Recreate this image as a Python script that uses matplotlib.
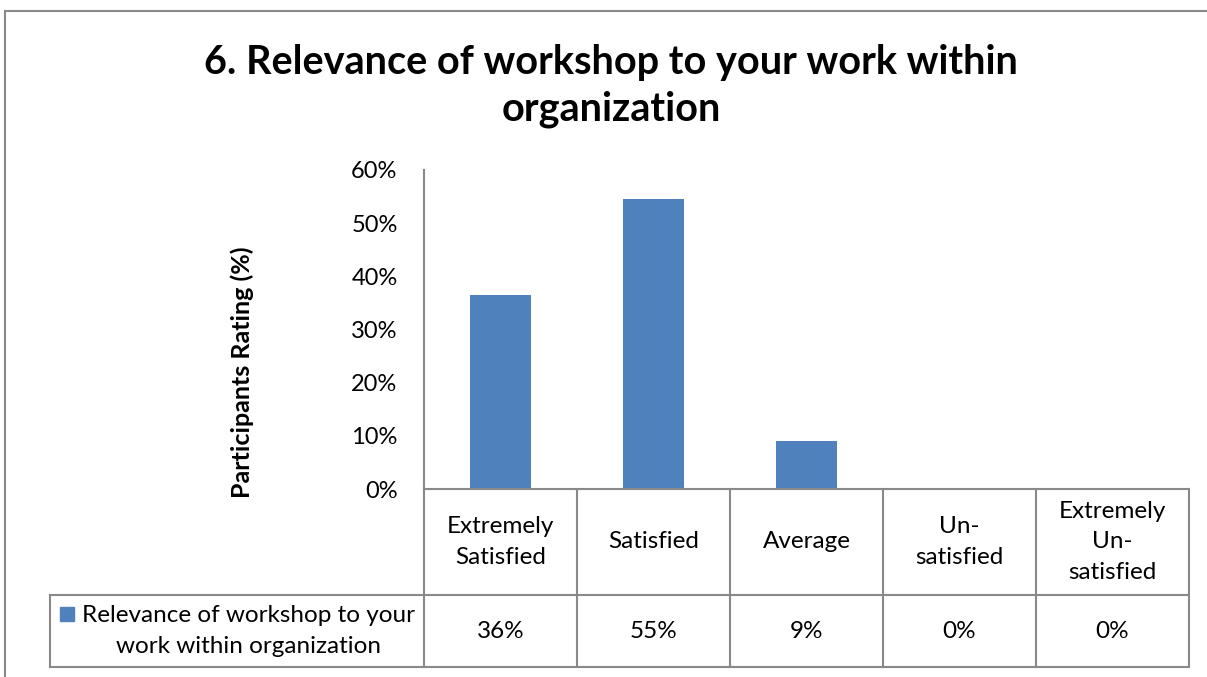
import numpy as np
from matplotlib import pyplot as plt
from matplotlib.patches import Rectangle

# data
categories = ["Extremely\nSatisfied", "Satisfied", "Average", "Un-\nsatisfied", "Extremely\nUn-\nsatisfied"]
values = [0.364, 0.545, 0.091, 0.0, 0.0]
value_labels = ["36%", "55%", "9%", "0%", "0%"]
series_name = "Relevance of workshop to your\nwork within organization"
title = "6. Relevance of workshop to your work within\norganization"
yticks = [0, 0.1, 0.2, 0.3, 0.4, 0.5, 0.6]

W, H = 1207, 677
bar_color = "#4f81bd"
grid_color = "#898989"
font = "Lato"
fs = 17.5  # table / tick text size

def main():
    plt.rcParams['font.family'] = [font, 'DejaVu Sans']
    fig = plt.figure(figsize=(W / 100, H / 100), dpi=100)

    # axes in pixel coords of the reference
    x0, x1, ytop, ybot = 424, 1189, 170, 489
    ax = fig.add_axes([x0 / W, 1 - ybot / H, (x1 - x0) / W, (ybot - ytop) / H])
    n = len(categories)
    x = np.arange(n)
    ax.bar(x, values, width=0.4, color=bar_color)
    ax.set_xlim(-0.5, n - 0.5)
    ax.set_ylim(0, 0.6)
    ax.set_yticks(yticks)
    ax.set_yticklabels(["%d%%" % round(t * 100) for t in yticks], fontsize=fs - 0.5)
    ax.tick_params(axis='y', length=0, pad=19)
    ax.set_xticks([])
    for s in ["top", "right"]:
        ax.spines[s].set_visible(False)
    for s in ["left", "bottom"]:
        ax.spines[s].set_color(grid_color)
        ax.spines[s].set_linewidth(1.5)

    ax.set_ylabel("Participants Rating (%)", fontsize=18, fontweight="bold")
    ax.yaxis.set_label_coords((254 - x0) / (x1 - x0), (ybot - 372) / (ybot - ytop))

    # data table below the axes
    ph = ybot - ytop
    col_w = (x1 - x0) / n
    y_hdr = -(595 - ybot) / ph
    y_row = -(667 - ybot) / ph
    x_leg = (50 - x0) / col_w - 0.5
    tr = ax.get_xaxis_transform()
    kw = dict(transform=tr, color=grid_color, lw=1.5, clip_on=False)
    for b in np.arange(n + 1) - 0.5:
        ax.plot([b, b], [0, y_row], **kw)
    ax.plot([x_leg, n - 0.5], [y_hdr, y_hdr], **kw)
    ax.plot([x_leg, n - 0.5], [y_row, y_row], **kw)
    ax.plot([x_leg, x_leg], [y_hdr, y_row], **kw)

    for i in range(n):
        ax.text(x[i], y_hdr / 2, categories[i], transform=tr, ha="center", va="center",
                fontsize=fs, linespacing=1.55)
        ax.text(x[i], (y_hdr + y_row) / 2, value_labels[i], transform=tr, ha="center",
                va="center", fontsize=fs)

    # legend key + series name
    fig.patches.append(Rectangle((60 / W, 1 - 621 / H), 14 / W, 14 / H, color=bar_color,
                                 transform=fig.transFigure))
    fig.text(249 / W, 1 - 631 / H, series_name, ha="center", va="center", fontsize=fs,
             multialignment="center", linespacing=1.6)

    # title
    fig.text(611 / W, 1 - 86 / H, title, ha="center", va="center", fontsize=28.5,
             fontweight="bold", linespacing=1.3)

    # chart border
    fig.add_artist(plt.Line2D([5 / W, 5 / W], [0, 1 - 11 / H], color=grid_color, lw=1.5,
                              transform=fig.transFigure))
    fig.add_artist(plt.Line2D([5 / W, 1], [1 - 11 / H, 1 - 11 / H], color=grid_color, lw=1.5,
                              transform=fig.transFigure))

    fig.savefig("out.png", dpi=100)

if __name__ == "__main__":
    main()
